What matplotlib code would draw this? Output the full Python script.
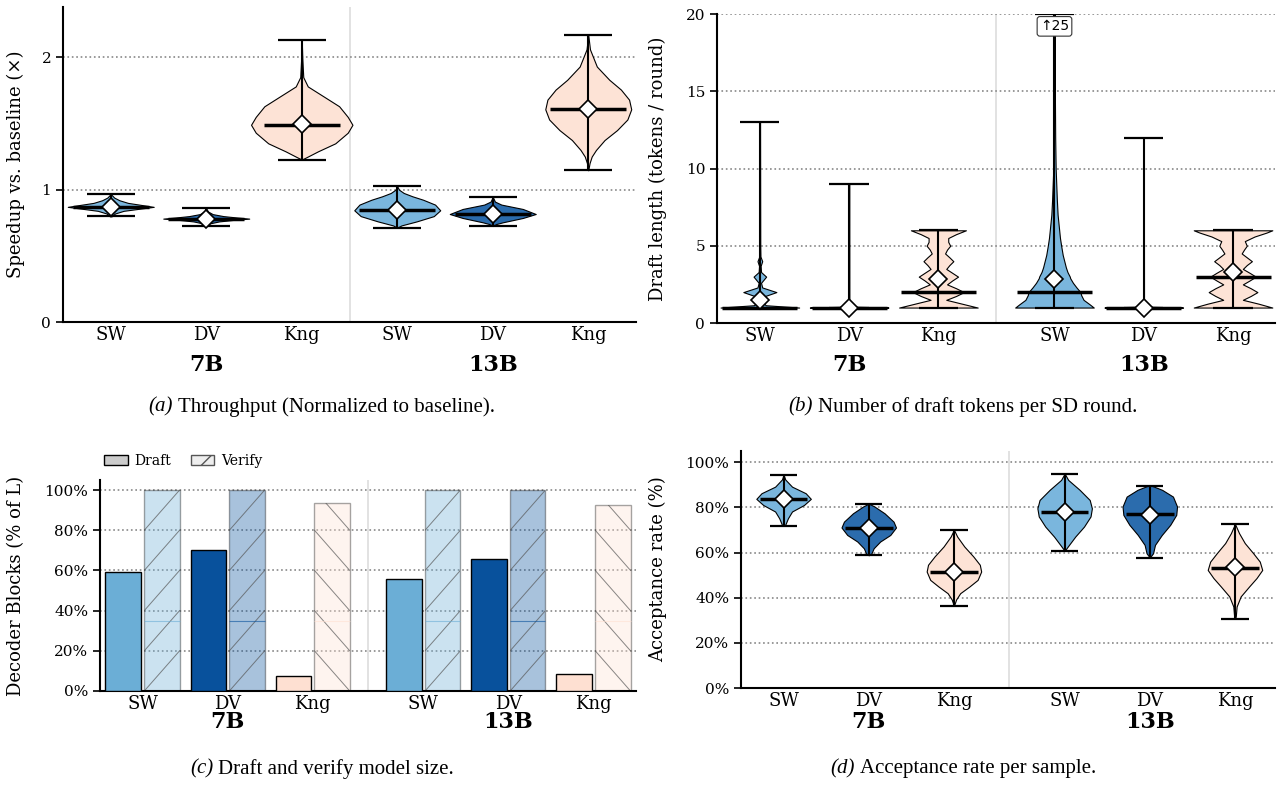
import matplotlib
matplotlib.use("Agg")
import matplotlib.pyplot as plt
import numpy as np
from matplotlib.patches import Patch
from matplotlib.transforms import blended_transform_factory

plt.rcParams["font.family"] = "DejaVu Serif"

W, H = 1277, 786

models = ["SW", "DV", "Kng"]
groups = ["7B", "13B"]
tick_labels = models * 2

violin_colors = ["#7ab6dd", "#2b6cad", "#fde3d6"] * 2
bar_colors = ["#6baed6", "#08519c", "#fee0d2"] * 2

# ---------------- (a) speedup vs baseline ----------------
a_min = [0.798, 0.728, 1.227, 0.713, 0.725, 1.146]
a_max = [0.967, 0.859, 2.133, 1.025, 0.945, 2.169]
a_median = [0.869, 0.781, 1.491, 0.844, 0.816, 1.607]
a_mean = [0.870, 0.782, 1.495, 0.845, 0.818, 1.607]
a_prof_y = [
    [0.798, 0.82, 0.84, 0.855, 0.87, 0.885, 0.90, 0.92, 0.94, 0.967],
    [0.728, 0.745, 0.76, 0.772, 0.781, 0.79, 0.80, 0.815, 0.835, 0.859],
    [1.227, 1.25, 1.29, 1.35, 1.43, 1.49, 1.55, 1.63, 1.70, 1.78, 1.85, 2.0, 2.133],
    [0.713, 0.73, 0.76, 0.80, 0.844, 0.887, 0.924, 0.95, 0.975, 1.0, 1.025],
    [0.725, 0.74, 0.753, 0.786, 0.816, 0.854, 0.887, 0.91, 0.945],
    [1.146, 1.2, 1.25, 1.3, 1.375, 1.45, 1.53, 1.607, 1.68, 1.756, 1.83, 1.93, 2.06, 2.169],
]
# relative half-widths (1.0 = the panel's usual widest violin)
a_prof_d = [
    [0.02, 0.1, 0.3, 0.65, 1.0, 0.7, 0.4, 0.2, 0.08, 0.0],
    [0.0, 0.08, 0.3, 0.65, 1.0, 0.7, 0.4, 0.15, 0.04, 0.0],
    [0.0, 0.14, 0.38, 0.78, 1.07, 1.18, 1.07, 0.87, 0.53, 0.14, 0.035, 0.012, 0.0],
    [0.0, 0.1, 0.45, 0.85, 1.0, 0.88, 0.6, 0.35, 0.15, 0.04, 0.0],
    [0.0, 0.08, 0.23, 0.7, 1.0, 0.7, 0.2, 0.05, 0.0],
    [0.0, 0.03, 0.08, 0.18, 0.38, 0.67, 0.91, 1.0, 0.95, 0.76, 0.49, 0.2, 0.04, 0.0],
]

# ---------------- (b) draft length ----------------
b_min = [1, 1, 1, 1, 1, 1]
b_max = [13, 9, 6, 25, 12, 6]
b_median = [1, 1, 2, 2, 1, 3]
b_mean = [1.5, 1.0, 2.85, 2.87, 1.0, 3.3]
b_prof_y = [
    [1.0, 1.15, 1.4, 1.7, 2.0, 2.3, 2.6, 3.0, 3.3, 3.7, 4.0, 4.3, 5.0, 13.0],
    [1.0, 1.05, 1.15, 1.5, 9.0],
    [1.0, 1.25, 1.5, 1.75, 2.0, 2.25, 2.5, 2.75, 3.0, 3.25, 3.5, 3.75, 4.0, 4.25,
     4.5, 4.75, 5.0, 5.25, 5.5, 5.75, 6.0],
    [1.0, 1.2, 1.5, 1.8, 2.0, 2.3, 2.6, 2.9, 3.0, 3.3, 3.6, 4.0, 4.4, 5.0, 5.5,
     6.0, 7.0, 8.0, 9.0, 10.0, 12.0, 15.0, 20.0, 25.0],
    [1.0, 1.05, 1.15, 1.5, 12.0],
    [1.0, 1.25, 1.5, 1.75, 2.0, 2.25, 2.5, 2.75, 3.0, 3.25, 3.5, 3.75, 4.0, 4.25,
     4.5, 4.75, 5.0, 5.3, 5.6, 5.85, 6.0],
]
b_prof_d = [
    [1.0, 0.15, 0.05, 0.08, 0.42, 0.06, 0.03, 0.16, 0.03, 0.02, 0.06, 0.015, 0.01, 0.005],
    [1.0, 0.15, 0.02, 0.006, 0.004],
    [1.0, 0.6, 0.2, 0.45, 0.65, 0.45, 0.22, 0.35, 0.5, 0.35, 0.2, 0.28, 0.38, 0.28,
     0.17, 0.22, 0.3, 0.25, 0.25, 0.45, 0.7],
    [1.0, 0.9, 0.74, 0.68, 0.66, 0.56, 0.47, 0.4, 0.39, 0.33, 0.29, 0.25, 0.21, 0.17,
     0.14, 0.12, 0.08, 0.06, 0.045, 0.03, 0.018, 0.01, 0.005, 0.0],
    [1.0, 0.15, 0.02, 0.006, 0.003],
    [1.0, 0.65, 0.25, 0.45, 0.62, 0.45, 0.25, 0.42, 0.58, 0.42, 0.25, 0.35, 0.48, 0.35,
     0.22, 0.28, 0.35, 0.3, 0.55, 0.85, 1.0],
]

# ---------------- (c) model size ----------------
draft_pct = [59.4, 70.0, 7.5, 55.6, 65.8, 8.3]
verify_pct = [100.0, 100.0, 93.8, 100.0, 100.0, 92.5]
verify_hatch = ["/", "/", "\\"] * 2

# ---------------- (d) acceptance rate ----------------
d_min = [71.8, 58.8, 36.4, 60.8, 57.8, 30.7]
d_max = [94.5, 81.7, 70.1, 95.0, 89.7, 72.7]
d_median = [83.8, 71.1, 51.6, 77.9, 77.1, 53.2]
d_mean = [83.8, 71.0, 51.4, 78.0, 76.8, 53.5]
d_prof_y = [
    [71.8, 72.3, 75.2, 78.2, 81.1, 83.8, 86.3, 89.2, 92.4, 94.5],
    [58.8, 59.4, 61.9, 64.9, 67.8, 71.1, 73.7, 77.4, 80.4, 81.7],
    [36.4, 39.2, 42.0, 45.0, 47.9, 51.6, 54.6, 58.3, 62.7, 67.1, 70.1],
    [60.8, 63.4, 67.1, 71.5, 76.0, 79.6, 83.3, 87.8, 92.2, 95.0],
    [57.8, 59.7, 63.4, 67.8, 72.3, 76.7, 80.4, 84.8, 87.8, 89.7],
    [30.7, 31.7, 36.1, 40.6, 45.0, 48.7, 52.3, 56.0, 59.7, 64.2, 68.6, 72.7],
]
d_prof_d = [
    [0.0, 0.06, 0.16, 0.31, 0.75, 1.0, 0.81, 0.31, 0.06, 0.0],
    [0.0, 0.09, 0.18, 0.42, 0.79, 1.0, 0.91, 0.58, 0.21, 0.0],
    [0.0, 0.08, 0.23, 0.57, 0.87, 1.0, 0.95, 0.71, 0.38, 0.12, 0.0],
    [0.0, 0.16, 0.39, 0.71, 0.95, 1.0, 0.92, 0.55, 0.13, 0.0],
    [0.0, 0.12, 0.19, 0.44, 0.75, 0.97, 1.0, 0.85, 0.45, 0.05],
    [0.0, 0.03, 0.06, 0.21, 0.52, 0.79, 1.0, 0.91, 0.67, 0.36, 0.15, 0.0],
]

pos_even = np.array([0, 1, 2, 3, 4, 5], dtype=float)
pos_gap = np.array([0, 1, 2, 3.3, 4.3, 5.3])


def px_axes(left, top, right, bottom):
    return fig.add_axes([left / W, 1 - bottom / H, (right - left) / W, (bottom - top) / H])


def style_axes(ax, pos, sep, group_y, label_x, ylabel):
    for s in ["top", "right"]:
        ax.spines[s].set_visible(False)
    for s in ["left", "bottom"]:
        ax.spines[s].set_linewidth(1.5)
    ax.yaxis.grid(True, ls=":", color="#888888", lw=1.2)
    ax.set_axisbelow(True)
    ax.axvline(sep, color="#dddddd", lw=1.2, zorder=0)
    ax.set_xticks(pos)
    ax.set_xticklabels(tick_labels, fontsize=13)
    ax.tick_params(axis="x", length=0, pad=3)
    ax.tick_params(axis="y", length=5, width=1.2, labelsize=11)
    tr = blended_transform_factory(ax.transData, ax.transAxes)
    ax.text(pos[1], group_y, groups[0], transform=tr, ha="center", va="center",
            fontsize=16, fontweight="bold")
    ax.text(pos[4], group_y, groups[1], transform=tr, ha="center", va="center",
            fontsize=16, fontweight="bold")
    ax.set_ylabel(ylabel, fontsize=13)
    ax.yaxis.set_label_coords(label_x, 0.5)


def draw_violins(ax, pos, ys, ds, lo, hi, med, mean, half, cap, medhalf, ytop):
    for i, p in enumerate(pos):
        y = np.array(ys[i])
        d = np.array(ds[i]) * half
        ax.fill_betweenx(y, p - d, p + d, facecolor=violin_colors[i],
                         edgecolor="black", lw=0.8, zorder=2)
        top = min(hi[i], ytop)
        ax.vlines(p, lo[i], top, color="black", lw=1.5, zorder=3)
        ax.hlines([lo[i], top], p - cap, p + cap, color="black", lw=1.6, zorder=3)
        ax.hlines(med[i], p - medhalf, p + medhalf, color="black", lw=2.5, zorder=4)
        ax.plot(p, mean[i], "D", ms=9, mfc="white", mec="black", mew=1.2, zorder=5)


fig = plt.figure(figsize=(W / 100, H / 100), dpi=100)

# (a)
ax = px_axes(63, 7, 636, 322)
draw_violins(ax, pos_even, a_prof_y, a_prof_d, a_min, a_max, a_median, a_mean,
             0.45, 0.25, 0.4, 2.38)
ax.set_xlim(-0.5, 5.5)
ax.set_ylim(0, 2.38)
ax.set_yticks([0, 1, 2])
style_axes(ax, pos_even, 2.5, -0.137, -0.066, "Speedup vs. baseline (\u00d7)")

# (b)
ax = px_axes(717, 14, 1275, 323)
draw_violins(ax, pos_gap, b_prof_y, b_prof_d, b_min, b_max, b_median, b_mean,
             0.44, 0.22, 0.42, 20)
ax.set_xlim(-0.48, 5.77)
ax.set_ylim(0, 20)
ax.set_yticks([0, 5, 10, 15, 20])
for i, p in enumerate(pos_gap):
    if b_max[i] > 20:
        ax.text(p, 19.2, f"\u2191{b_max[i]}", ha="center", va="center", fontsize=10,
                family=["DejaVu Sans"], zorder=6,
                bbox=dict(boxstyle="round,pad=0.2", fc="white", ec="#333333", lw=0.8))
style_axes(ax, pos_gap, 2.65, -0.136, -0.09, "Draft length (tokens / round)")

# (c)
ax = px_axes(100, 480, 636, 691)
off, bw = 0.228, 0.415
ax.bar(pos_gap - off, draft_pct, bw, color=bar_colors, edgecolor="black", lw=1, zorder=3)
vbars = ax.bar(pos_gap + off, verify_pct, bw, color=bar_colors, alpha=0.35,
               edgecolor="black", lw=1, zorder=2)
for i, rect in enumerate(vbars):
    x0, x1 = rect.get_x(), rect.get_x() + rect.get_width()
    for k in range(-1, 6):
        if verify_hatch[i] == "/":
            yy = [20 * k, 20 * (k + 1)]
        else:
            yy = [20 * (k + 1), 20 * k]
        ln, = ax.plot([x0, x1], yy, color="#555555", lw=0.7, alpha=0.7, zorder=2.5)
        ln.set_clip_path(rect)
    ax.hlines(35, x0, x1, color=bar_colors[i], lw=0.8, alpha=0.6, zorder=2.5)
ax.set_xlim(-0.5, 5.8)
ax.set_ylim(0, 105)
pct_ticks = [0, 20, 40, 60, 80, 100]
ax.set_yticks(pct_ticks)
ax.set_yticklabels([f"{v}%" for v in pct_ticks])
style_axes(ax, pos_gap, 2.65, -0.147, -0.14, "Decoder Blocks (% of L)")
handles = [Patch(facecolor="#cccccc", edgecolor="black", lw=1),
           Patch(facecolor="#eeeeee", edgecolor="#555555", lw=1, hatch="/")]
fig.legend(handles, ["Draft", "Verify"], loc="center left",
           bbox_to_anchor=(104 / W, 1 - 461 / H), ncol=2, frameon=False, fontsize=10,
           handlelength=1.7, handleheight=0.75, handletextpad=0.5,
           columnspacing=1.4, borderpad=0, borderaxespad=0)

# (d)
ax = px_axes(741, 451, 1275, 688)
draw_violins(ax, pos_gap, d_prof_y, d_prof_d, d_min, d_max, d_median, d_mean,
             0.32, 0.16, 0.28, 105)
ax.set_xlim(-0.5, 5.77)
ax.set_ylim(0, 105)
ax.set_yticks(pct_ticks)
ax.set_yticklabels([f"{v}%" for v in pct_ticks])
style_axes(ax, pos_gap, 2.65, -0.143, -0.139, "Acceptance rate (%)")

# captions
captions = [
    (322, 407, "(a)", "Throughput (Normalized to baseline)."),
    (963, 407, "(b)", "Number of draft tokens per SD round."),
    (322, 769, "(c)", "Draft and verify model size."),
    (963, 769, "(d)", "Acceptance rate per sample."),
]
renderer = fig.canvas.get_renderer()
for cx, cy, tag, rest in captions:
    t1 = fig.text(0, 1 - cy / H, tag, family="Liberation Serif", style="italic",
                  fontsize=15, va="center")
    t2 = fig.text(0, 1 - cy / H, rest, family="Liberation Serif", fontsize=15, va="center")
    w1 = t1.get_window_extent(renderer).width
    w2 = t2.get_window_extent(renderer).width
    gap = 5
    x0 = cx - (w1 + gap + w2) / 2
    t1.set_x(x0 / W)
    t2.set_x((x0 + w1 + gap) / W)

fig.savefig("out.png", dpi=100)
